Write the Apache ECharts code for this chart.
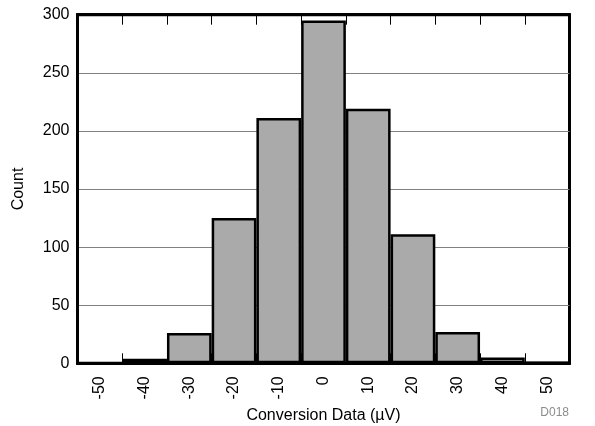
<!DOCTYPE html>
<html>
<head>
<meta charset="utf-8">
<script src="https://cdn.jsdelivr.net/npm/echarts@6/dist/echarts.min.js"></script>
<style>
html,body{margin:0;padding:0;background:#fff;}
#c{width:595px;height:426px;}
</style>
</head>
<body>
<div id="c"></div>
<script>
const categories = ['-50','-40','-30','-20','-10','0','10','20','30','40','50'];
const counts = [0, 4, 26, 125, 211, 295, 219, 111, 27, 5, 1];
const yTicks = [0, 50, 100, 150, 200, 250, 300];
const xTitle = 'Conversion Data (\u00b5V)';
const yTitle = 'Count';
const note = 'D018';

const FONT = '"Liberation Sans", Arial, sans-serif';
const chart = echarts.init(document.getElementById('c'), null, {renderer: 'canvas'});
chart.setOption({
  animation: false,
  backgroundColor: '#fff',
  grid: {left: 77.5, right: 25.5, top: 14.7, bottom: 62.7, outerBoundsMode: 'none', containLabel: false,
         show: true, borderColor: '#000', borderWidth: 3, backgroundColor: 'transparent'},
  xAxis: [{
    type: 'category', data: categories, position: 'bottom', boundaryGap: true,
    axisLine: {show: true, lineStyle: {color: '#000', width: 3}},
    axisTick: {show: true, inside: true, length: 10, lineStyle: {color: '#000', width: 1}},
    axisLabel: {rotate: 90, interval: 0, margin: 13, color: '#000', fontSize: 16, fontFamily: FONT},
    name: xTitle, nameLocation: 'middle', nameGap: 40,
    nameTextStyle: {color: '#000', fontSize: 16, fontFamily: FONT},
    splitLine: {show: false}
  }, {
    type: 'category', data: categories, position: 'top', boundaryGap: true,
    axisLine: {show: true, lineStyle: {color: '#000', width: 3}},
    axisTick: {show: true, inside: true, length: 10, lineStyle: {color: '#000', width: 1}},
    axisLabel: {show: false}, splitLine: {show: false}
  }],
  yAxis: {
    type: 'value', min: yTicks[0], max: yTicks[yTicks.length - 1], interval: 50,
    axisLine: {show: true, lineStyle: {color: '#000', width: 3}},
    axisTick: {show: false},
    axisLabel: {color: '#000', fontSize: 16, fontFamily: FONT, margin: 8},
    splitLine: {show: true, lineStyle: {color: '#808080', width: 1}},
    name: yTitle, nameLocation: 'middle', nameGap: 51,
    nameTextStyle: {color: '#000', fontSize: 16, fontFamily: FONT}
  },
  graphic: [{
    type: 'text', right: 26, top: 407,
    style: {text: note, fill: '#8c8c8c', fontSize: 12, fontFamily: FONT}
  }],
  series: [{
    type: 'bar', data: counts, xAxisIndex: 0, barCategoryGap: '0%',
    itemStyle: {color: '#aaaaaa', borderColor: '#000', borderWidth: 2.5}
  }]
});
</script>
</body>
</html>
